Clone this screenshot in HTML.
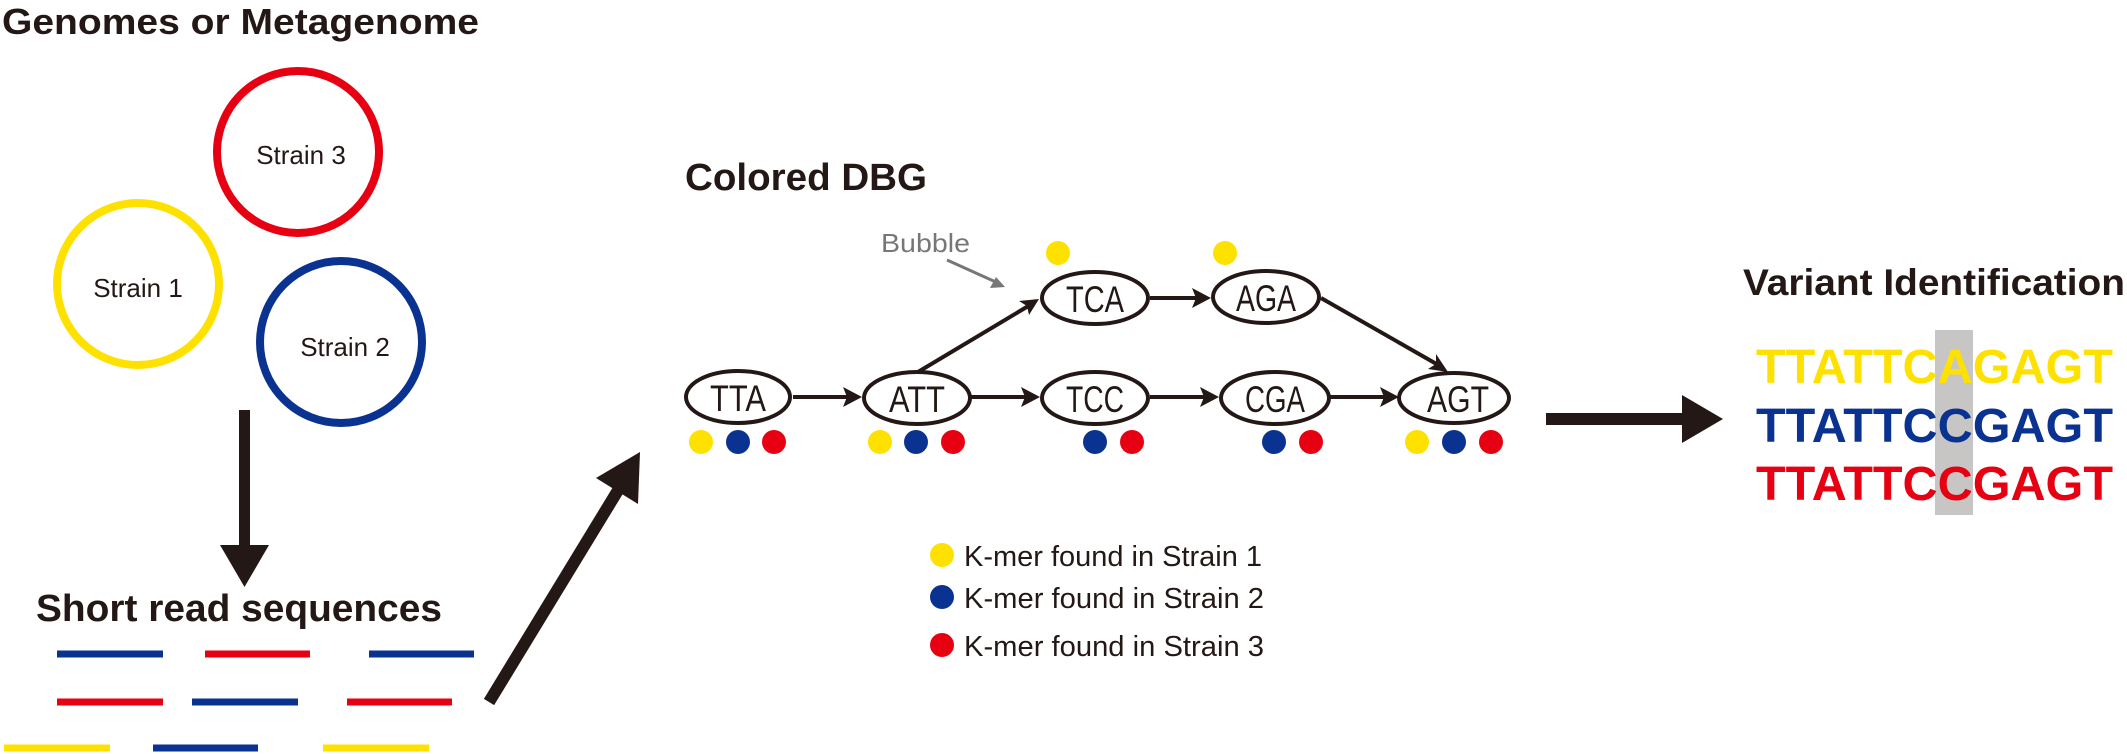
<!DOCTYPE html>
<html><head><meta charset="utf-8"><style>
html,body{margin:0;padding:0;background:#fff;}
svg{display:block;}
</style></head><body>
<svg width="2127" height="754" viewBox="0 0 2127 754" xmlns="http://www.w3.org/2000/svg" font-family="Liberation Sans, Arial, sans-serif">
<rect width="2127" height="754" fill="#fff"/>
<!-- Left panel -->
<text x="2" y="34" font-size="36" font-weight="bold" fill="#231815" textLength="477" lengthAdjust="spacingAndGlyphs">Genomes or Metagenome</text>
<ellipse cx="298" cy="152" rx="81" ry="81" fill="none" stroke="#e60012" stroke-width="8"/>
<ellipse cx="138" cy="284" rx="81" ry="81" fill="none" stroke="#ffe100" stroke-width="8"/>
<ellipse cx="341" cy="342" rx="81" ry="81" fill="none" stroke="#0a3291" stroke-width="8"/>
<text x="301" y="164" font-size="26" text-anchor="middle" fill="#231815">Strain 3</text>
<text x="138" y="297" font-size="26" text-anchor="middle" fill="#231815">Strain 1</text>
<text x="345" y="356" font-size="26" text-anchor="middle" fill="#231815">Strain 2</text>
<rect x="239" y="410" width="11" height="140" fill="#231815"/>
<polygon points="220,545 269,545 244.5,587" fill="#231815"/>
<text x="36" y="621" font-size="38" font-weight="bold" fill="#231815" textLength="406" lengthAdjust="spacingAndGlyphs">Short read sequences</text>
<g stroke-width="7">
<line x1="57" y1="654" x2="163" y2="654" stroke="#0a3291"/>
<line x1="205" y1="654" x2="310" y2="654" stroke="#e60012"/>
<line x1="369" y1="654" x2="474" y2="654" stroke="#0a3291"/>
<line x1="57" y1="702" x2="163" y2="702" stroke="#e60012"/>
<line x1="192" y1="702" x2="298" y2="702" stroke="#0a3291"/>
<line x1="347" y1="702" x2="452" y2="702" stroke="#e60012"/>
<line x1="4" y1="748" x2="110" y2="748" stroke="#ffe100"/>
<line x1="153" y1="748" x2="258" y2="748" stroke="#0a3291"/>
<line x1="323" y1="748" x2="429" y2="748" stroke="#ffe100"/>
</g>
<line x1="489" y1="702" x2="620" y2="487" stroke="#231815" stroke-width="12"/>
<polygon points="640,452 638,504 596,478" fill="#231815"/>
<!-- Middle panel -->
<text x="685" y="190" font-size="38" font-weight="bold" fill="#231815" textLength="242" lengthAdjust="spacingAndGlyphs">Colored DBG</text>
<text x="881" y="252" font-size="26" fill="#777" textLength="89" lengthAdjust="spacingAndGlyphs">Bubble</text>
<line x1="947" y1="260" x2="998" y2="283" stroke="#777" stroke-width="3"/>
<polygon points="1005,287 990,288 996,277" fill="#777"/>
<g fill="#231815">
<g stroke="#231815" stroke-width="4">
<line x1="793" y1="397" x2="850" y2="397"/>
<line x1="971" y1="397" x2="1028" y2="397"/>
<line x1="1150" y1="397" x2="1207" y2="397"/>
<line x1="1330" y1="397" x2="1387" y2="397"/>
<line x1="1150" y1="298" x2="1199" y2="298"/>
<line x1="918" y1="372" x2="1030" y2="305"/>
<line x1="1321" y1="298" x2="1440" y2="366"/>
</g>
<polygon points="862,397 843,387 847,397 843,407"/>
<polygon points="1040,397 1021,387 1025,397 1021,407"/>
<polygon points="1219,397 1200,387 1204,397 1200,407"/>
<polygon points="1399,397 1380,387 1384,397 1380,407"/>
<polygon points="1211,298 1192,288 1196,298 1192,308"/>
<polygon points="1039,299 1019,301 1027,306 1029,315"/>
<polygon points="1448,372 1436,354 1436,364 1428,369"/>
</g>
<g fill="#fff" stroke="#231815" stroke-width="4">
<ellipse cx="738" cy="397" rx="52" ry="26"/>
<ellipse cx="917" cy="398" rx="53" ry="26"/>
<ellipse cx="1095" cy="398" rx="53" ry="26"/>
<ellipse cx="1275" cy="398" rx="54" ry="26"/>
<ellipse cx="1454" cy="398" rx="55" ry="25"/>
<ellipse cx="1095" cy="298" rx="53" ry="26"/>
<ellipse cx="1266" cy="297" rx="53" ry="26"/>
</g>
<g font-size="37" fill="#231815" text-anchor="middle">
<text x="738" y="411" textLength="56" lengthAdjust="spacingAndGlyphs">TTA</text>
<text x="917" y="412" textLength="56" lengthAdjust="spacingAndGlyphs">ATT</text>
<text x="1095" y="412" textLength="58" lengthAdjust="spacingAndGlyphs">TCC</text>
<text x="1275" y="412" textLength="60" lengthAdjust="spacingAndGlyphs">CGA</text>
<text x="1458" y="412" textLength="62" lengthAdjust="spacingAndGlyphs">AGT</text>
<text x="1095" y="312" textLength="58" lengthAdjust="spacingAndGlyphs">TCA</text>
<text x="1266" y="311" textLength="60" lengthAdjust="spacingAndGlyphs">AGA</text>
</g>
<g>
<circle cx="701" cy="442" r="12" fill="#ffe100"/><circle cx="738" cy="442" r="12" fill="#0a3291"/><circle cx="774" cy="442" r="12" fill="#e60012"/>
<circle cx="880" cy="442" r="12" fill="#ffe100"/><circle cx="916" cy="442" r="12" fill="#0a3291"/><circle cx="953" cy="442" r="12" fill="#e60012"/>
<circle cx="1095" cy="442" r="12" fill="#0a3291"/><circle cx="1132" cy="442" r="12" fill="#e60012"/>
<circle cx="1274" cy="442" r="12" fill="#0a3291"/><circle cx="1311" cy="442" r="12" fill="#e60012"/>
<circle cx="1417" cy="442" r="12" fill="#ffe100"/><circle cx="1454" cy="442" r="12" fill="#0a3291"/><circle cx="1491" cy="442" r="12" fill="#e60012"/>
<circle cx="1058" cy="253" r="12" fill="#ffe100"/><circle cx="1225" cy="253" r="12" fill="#ffe100"/>
<circle cx="942" cy="555" r="12" fill="#ffe100"/>
<circle cx="942" cy="597" r="12" fill="#0a3291"/>
<circle cx="942" cy="645" r="12" fill="#e60012"/>
</g>
<g font-size="29" fill="#231815">
<text x="964" y="566" textLength="298" lengthAdjust="spacingAndGlyphs">K-mer found in Strain 1</text>
<text x="964" y="608" textLength="300" lengthAdjust="spacingAndGlyphs">K-mer found in Strain 2</text>
<text x="964" y="656" textLength="300" lengthAdjust="spacingAndGlyphs">K-mer found in Strain 3</text>
</g>
<!-- Right panel -->
<rect x="1546" y="413" width="140" height="12" fill="#231815"/>
<polygon points="1682,395 1723,419 1682,443" fill="#231815"/>
<text x="1743" y="295" font-size="37" font-weight="bold" fill="#231815" textLength="382" lengthAdjust="spacingAndGlyphs">Variant Identification</text>
<rect x="1935" y="330" width="38" height="185" fill="#c8c6c5"/>
<g font-size="48" font-weight="bold">
<text x="1756" y="383" fill="#ffe100" textLength="357" lengthAdjust="spacingAndGlyphs">TTATTCAGAGT</text>
<text x="1756" y="442" fill="#0a3291" textLength="357" lengthAdjust="spacingAndGlyphs">TTATTCCGAGT</text>
<text x="1756" y="500" fill="#e60012" textLength="357" lengthAdjust="spacingAndGlyphs">TTATTCCGAGT</text>
</g>
</svg>
</body></html>
